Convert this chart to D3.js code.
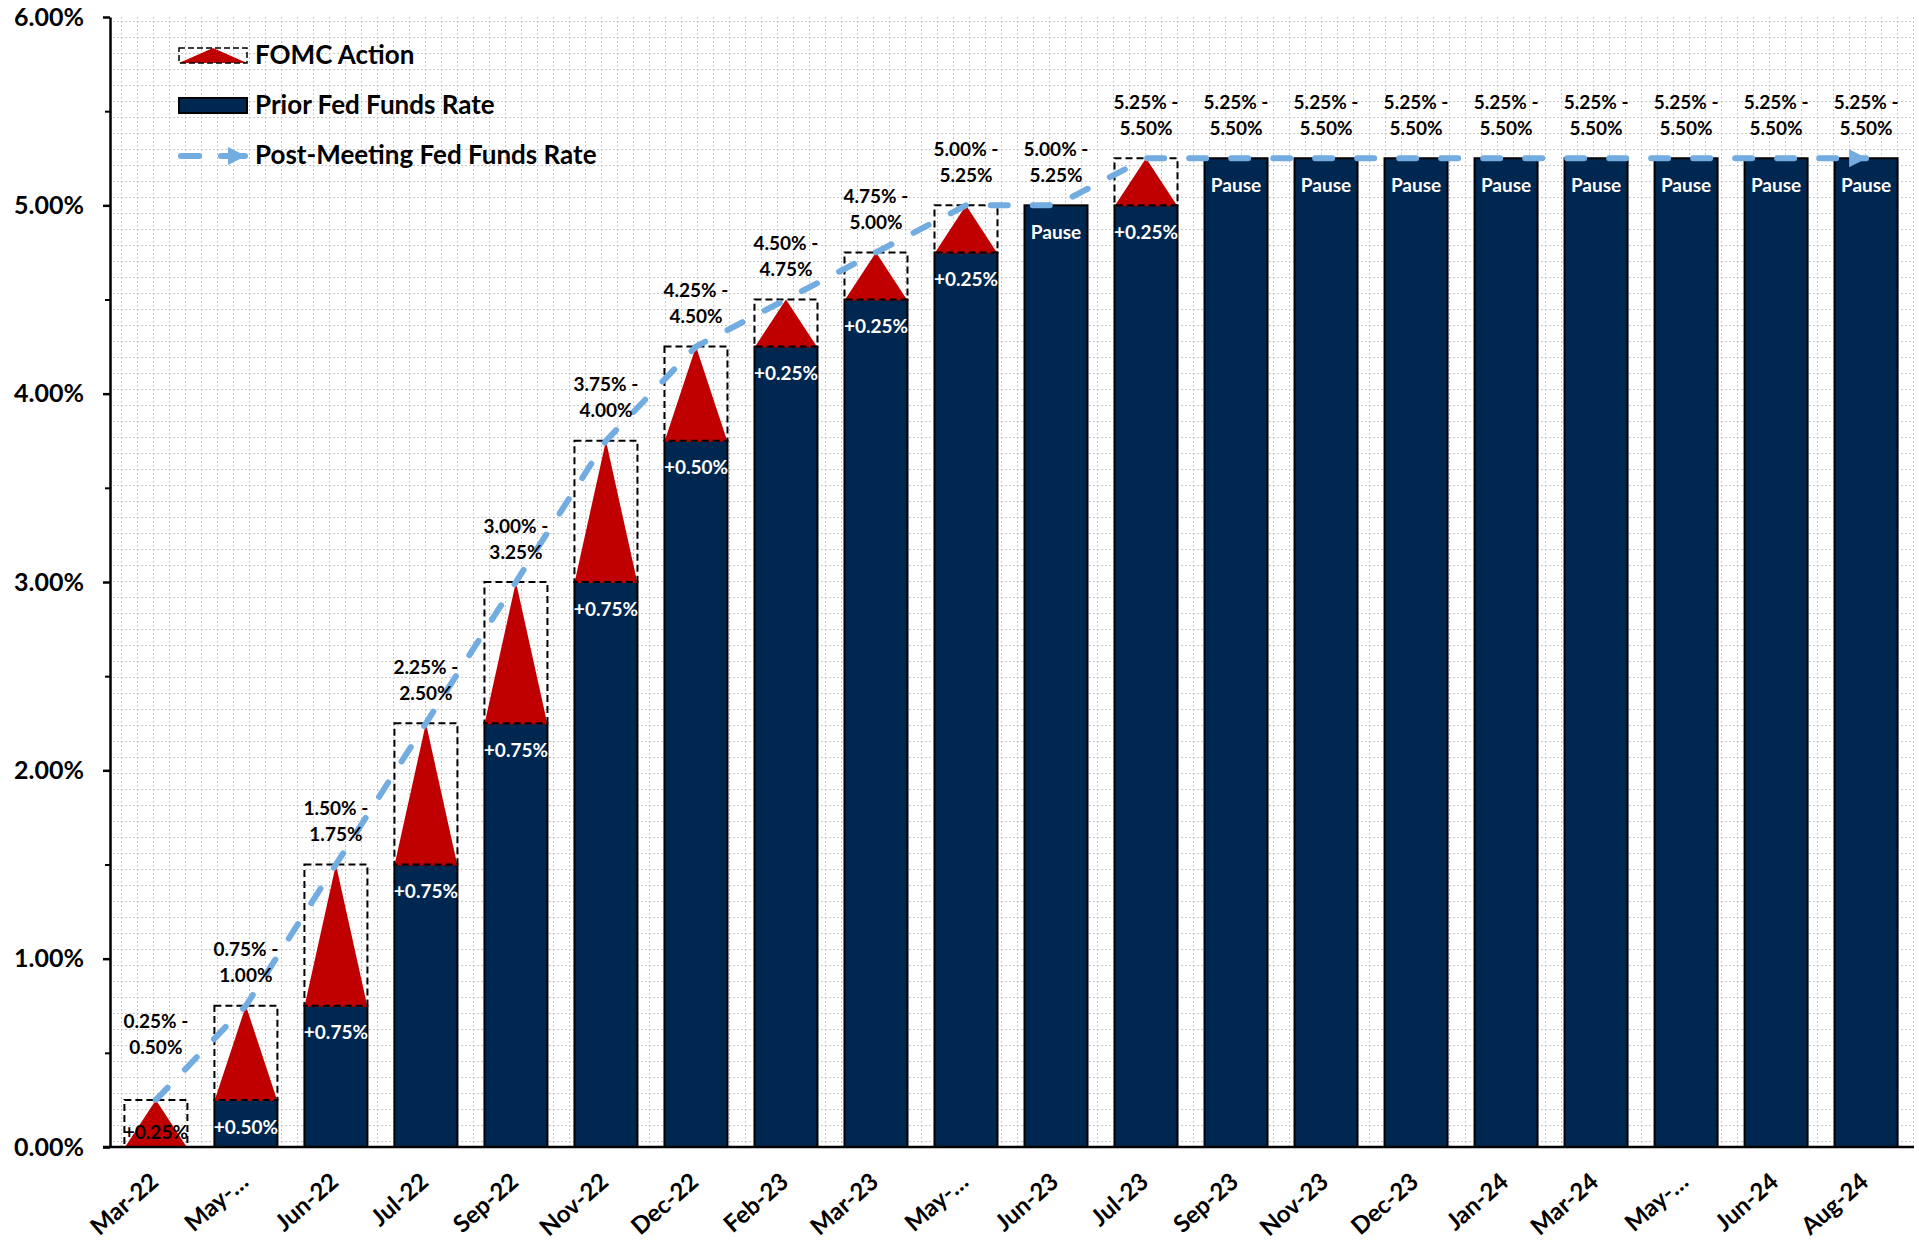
<!DOCTYPE html>
<html>
<head>
<meta charset="utf-8">
<script src="https://cdn.jsdelivr.net/npm/d3@7"></script>
<style>
  html, body { margin: 0; padding: 0; background: #ffffff; }
  svg { display: block; }
  text { font-family: Lato, "Open Sans", sans-serif; font-weight: 700; }
</style>
</head>
<body>
<svg id="chart" width="1919" height="1242"></svg>
<script>
// ---------------- DATA ----------------
const categories = ["Mar-22","May-22","Jun-22","Jul-22","Sep-22","Nov-22","Dec-22","Feb-23","Mar-23","May-23",
                    "Jun-23","Jul-23","Sep-23","Nov-23","Dec-23","Jan-24","Mar-24","May-24","Jun-24","Aug-24"];
const categoryLabels = ["Mar-22","May-…","Jun-22","Jul-22","Sep-22","Nov-22","Dec-22","Feb-23","Mar-23","May-…",
                        "Jun-23","Jul-23","Sep-23","Nov-23","Dec-23","Jan-24","Mar-24","May-…","Jun-24","Aug-24"];
const priorRate = [0, 0.25, 0.75, 1.5, 2.25, 3.0, 3.75, 4.25, 4.5, 4.75,
                   5.0, 5.0, 5.25, 5.25, 5.25, 5.25, 5.25, 5.25, 5.25, 5.25];
const fomcAction = [0.25, 0.5, 0.75, 0.75, 0.75, 0.75, 0.5, 0.25, 0.25, 0.25,
                    0, 0.25, 0, 0, 0, 0, 0, 0, 0, 0];
const barLabels = ["+0.25%","+0.50%","+0.75%","+0.75%","+0.75%","+0.75%","+0.50%","+0.25%","+0.25%","+0.25%",
                   "Pause","+0.25%","Pause","Pause","Pause","Pause","Pause","Pause","Pause","Pause"];
const rangeLabelsTop = ["0.25% -","0.75% -","1.50% -","2.25% -","3.00% -","3.75% -","4.25% -","4.50% -","4.75% -","5.00% -",
                        "5.00% -","5.25% -","5.25% -","5.25% -","5.25% -","5.25% -","5.25% -","5.25% -","5.25% -","5.25% -"];
const rangeLabelsBottom = ["0.50%","1.00%","1.75%","2.50%","3.25%","4.00%","4.50%","4.75%","5.00%","5.25%",
                           "5.25%","5.50%","5.50%","5.50%","5.50%","5.50%","5.50%","5.50%","5.50%","5.50%"];
const yMajorTicks = [0, 1, 2, 3, 4, 5, 6];
const yMinorTicks = [0.5, 1.5, 2.5, 3.5, 4.5, 5.5];
const legendLabels = ["FOMC Action", "Prior Fed Funds Rate", "Post-Meeting Fed Funds Rate"];

// ---------------- LAYOUT ----------------
const plot = { left: 110, right: 1914, top: 17, bottom: 1147 };
const colors = { bar: "#00274f", tri: "#c00000", line: "#72ace0", grid: "#c8c8c8" };

const svg = d3.select("#chart");
const rows = categories.map((c, i) => ({
  cat: c, label: categoryLabels[i], prior: priorRate[i], action: fomcAction[i],
  post: priorRate[i] + fomcAction[i], barLabel: barLabels[i],
  rTop: rangeLabelsTop[i], rBot: rangeLabelsBottom[i]
}));

const x = d3.scaleBand().domain(categories).range([plot.left, plot.right - 2]).paddingInner(0.3).paddingOuter(0.16);
const y = d3.scaleLinear().domain([0, 6]).range([plot.bottom, plot.top]);
const bw = x.bandwidth();
const cx = d => x(d.cat) + bw / 2;

// pattern grid background
const defs = svg.append("defs");
const pat = defs.append("pattern").attr("id", "grid").attr("patternUnits", "userSpaceOnUse")
  .attr("x", 121).attr("y", 21).attr("width", 16).attr("height", 16);
pat.append("line").attr("x1", 0).attr("x2", 16).attr("y1", 0).attr("y2", 0)
  .attr("stroke", colors.grid).attr("stroke-width", 2).attr("stroke-dasharray", "2 2");
pat.append("line").attr("x1", 0).attr("x2", 0).attr("y1", 0).attr("y2", 16)
  .attr("stroke", colors.grid).attr("stroke-width", 2).attr("stroke-dasharray", "2 2");

defs.append("marker").attr("id", "arrow").attr("markerUnits", "userSpaceOnUse")
  .attr("viewBox", "0 0 18 18").attr("refX", 17).attr("refY", 9)
  .attr("markerWidth", 18).attr("markerHeight", 18).attr("orient", "auto")
  .append("path").attr("d", "M0,0 L18,9 L0,18 Z").attr("fill", colors.line);

svg.append("rect").attr("x", plot.left).attr("y", plot.top)
  .attr("width", plot.right - plot.left).attr("height", plot.bottom - plot.top)
  .attr("fill", "url(#grid)");

// bars (prior rate)
svg.append("g").selectAll("rect").data(rows.filter(d => d.prior > 0)).join("rect")
  .attr("x", d => x(d.cat)).attr("y", d => y(d.prior))
  .attr("width", bw).attr("height", d => y(0) - y(d.prior))
  .attr("fill", colors.bar).attr("stroke", "#000").attr("stroke-width", 2);

// FOMC action triangles
const act = rows.filter(d => d.action > 0);
svg.append("g").selectAll("path").data(act).join("path")
  .attr("d", d => `M${x(d.cat)},${y(d.prior) + 1} L${cx(d)},${y(d.post)} L${x(d.cat) + bw},${y(d.prior) + 1} Z`)
  .attr("fill", colors.tri);
svg.append("g").selectAll("rect").data(act).join("rect")
  .attr("x", d => x(d.cat)).attr("y", d => y(d.post))
  .attr("width", bw).attr("height", d => y(d.prior) - y(d.post))
  .attr("fill", "none").attr("stroke", "#000").attr("stroke-width", 2).attr("stroke-dasharray", "7 4");

// post-meeting line
const line = d3.line().x(d => cx(d)).y(d => y(d.post));
svg.append("path").datum(rows).attr("d", line)
  .attr("fill", "none").attr("stroke", colors.line).attr("stroke-width", 6)
  .attr("stroke-linecap", "round").attr("stroke-dasharray", "17 25")
  .attr("marker-end", "url(#arrow)");

// bar labels
svg.append("g").selectAll("text").data(rows).join("text")
  .attr("x", d => cx(d))
  .attr("y", d => d.prior > 0 ? y(d.prior) + 27 : y(0) - 15)
  .attr("dy", "0.35em").attr("text-anchor", "middle")
  .attr("font-size", 19).attr("fill", d => d.prior > 0 ? "#fff" : "#000")
  .text(d => d.barLabel);

// range labels
const rl = svg.append("g").selectAll("text").data(rows).join("text")
  .attr("text-anchor", "middle").attr("font-size", 19).attr("fill", "#000");
rl.append("tspan").attr("x", d => cx(d)).attr("y", d => Math.min(y(d.post), y(0.37)) - 56).attr("dy", "0.35em").text(d => d.rTop);
rl.append("tspan").attr("x", d => cx(d)).attr("y", d => Math.min(y(d.post), y(0.37)) - 30).attr("dy", "0.35em").text(d => d.rBot);

// y axis
const yAxis = svg.append("g").attr("transform", `translate(${plot.left},0)`)
  .call(d3.axisLeft(y).tickValues(yMajorTicks).tickSize(7).tickSizeOuter(0).tickPadding(19)
    .tickFormat(d => d.toFixed(2) + "%"));
yAxis.select(".domain").attr("stroke", "#000").attr("stroke-width", 2.5);
yAxis.selectAll(".tick line").attr("stroke", "#000").attr("stroke-width", 2.5);
yAxis.selectAll(".tick text").attr("font-size", 25).attr("fill", "#000")
  .style("font-family", "Lato, sans-serif").style("font-weight", 700);
const yMinor = svg.append("g").attr("transform", `translate(${plot.left},0)`)
  .call(d3.axisLeft(y).tickValues(yMinorTicks).tickSize(5).tickFormat(""));
yMinor.select(".domain").remove();
yMinor.selectAll(".tick line").attr("stroke", "#000").attr("stroke-width", 2);

// x axis
svg.append("line").attr("x1", plot.left - 7).attr("x2", plot.right).attr("y1", y(0)).attr("y2", y(0))
  .attr("stroke", "#000").attr("stroke-width", 2.5);
svg.append("g").selectAll("text").data(rows).join("text")
  .attr("transform", d => `translate(${cx(d) + 4},${y(0) + 37}) rotate(-41)`)
  .attr("text-anchor", "end").attr("font-size", 24).attr("fill", "#000")
  .text(d => d.label);

// legend
const lg = svg.append("g");
const lx = 179, lw = 68;
// FOMC
lg.append("path").attr("d", `M${lx},63 L${lx + lw / 2},48 L${lx + lw},63 Z`).attr("fill", colors.tri);
lg.append("rect").attr("x", lx).attr("y", 48).attr("width", lw).attr("height", 15)
  .attr("fill", "none").attr("stroke", "#000").attr("stroke-width", 1.5).attr("stroke-dasharray", "6 3");
// Prior
lg.append("rect").attr("x", lx).attr("y", 98).attr("width", lw).attr("height", 15)
  .attr("fill", colors.bar).attr("stroke", "#000").attr("stroke-width", 2);
// Post
lg.append("line").attr("x1", lx + 2).attr("x2", lx + 20).attr("y1", 156).attr("y2", 156)
  .attr("stroke", colors.line).attr("stroke-width", 6).attr("stroke-linecap", "round");
lg.append("line").attr("x1", lx + 42).attr("x2", lx + lw - 2).attr("y1", 156).attr("y2", 156)
  .attr("stroke", colors.line).attr("stroke-width", 6).attr("stroke-linecap", "round")
  .attr("marker-end", "url(#arrow)");
lg.selectAll("text.leg").data(legendLabels).join("text").attr("class", "leg")
  .attr("x", 255).attr("y", (d, i) => 55 + i * 50).attr("dy", "0.35em")
  .attr("font-size", 26).attr("fill", "#000").text(d => d);
</script>
</body>
</html>
